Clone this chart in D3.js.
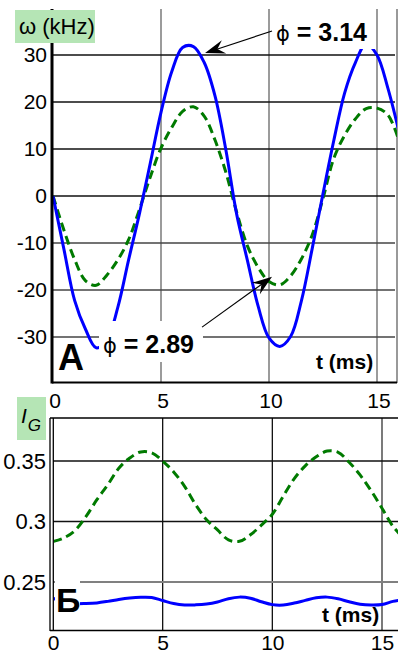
<!DOCTYPE html>
<html><head><meta charset="utf-8">
<script src="https://cdn.jsdelivr.net/npm/d3@7"></script>
<style>html,body{margin:0;padding:0;background:#fff;overflow:hidden}</style>
</head><body><svg id="c" width="398" height="656"></svg>
<script>
// ---------- data ----------
const timeMs = [0,0.5,1,1.5,2,2.5,3,3.5,4,4.5,5,5.5,6,6.5,7,7.5,8,8.5,9,9.5,10,10.5,11,11.5,12,12.5,13,13.5,14,14.5,15,15.5,16];
// panel A: omega (kHz)
const omegaBlue  = [0,-11.2,-22.2,-28.3,-32.3,-30.6,-23.7,-13.6,-3.8,6.9,17.8,26.5,31.6,31.8,28.4,21.3,9.9,-3.8,-13.7,-23.5,-30.2,-32,-29.9,-22.3,-11.2,0.5,11.8,21.9,28.4,32.4,30,23,14];
const omegaGreen = [0,-7.2,-13.5,-18,-19,-16.8,-13.6,-9.3,-2.9,4,10.2,14.6,18,19,17,11.9,5.1,-3.4,-10.6,-15.2,-18.2,-18.9,-17,-13.4,-8.3,-0.5,8,12.9,16.4,18.6,18.7,17.3,12];
// panel Б: I_G
const igGreen = [0.2834,0.2865,0.2925,0.3040,0.3180,0.3305,0.3440,0.3525,0.3575,0.3568,0.3500,0.3410,0.3290,0.3140,0.3015,0.2930,0.2848,0.2836,0.2890,0.2970,0.3060,0.3210,0.3355,0.3460,0.3535,0.3582,0.3572,0.3490,0.3385,0.3255,0.3110,0.2960,0.2860];
const igBlue  = [0.2366,0.2333,0.2321,0.2322,0.2327,0.2340,0.2356,0.2368,0.2374,0.2372,0.2347,0.2322,0.2310,0.2311,0.2318,0.2335,0.2362,0.2375,0.2366,0.2337,0.2313,0.2310,0.2326,0.2348,0.2369,0.2375,0.2361,0.2337,0.2317,0.2310,0.2314,0.2340,0.2355];
// ticks
const xTicks = [0,5,10,15];
const omegaTicks = [30,20,10,0,-10,-20,-30];
const igTicks = [0.35,0.3,0.25];
const igTickLabels = ["0.35","0.3","0.25"];
// annotations (data coordinates)
const phiSymbol = "ϕ";
const phiTopValue = " = 3.14";
const phiBotValue = " = 2.89";
const arrowTop = {from:[10.14,35.1], to:[7.04,30.4]};
const arrowBot = {from:[6.9,-27.9], to:[10.14,-17.2]};

// ---------- drawing ----------
const svg = d3.select("#c");
const FONT = "'Liberation Sans', Arial, Helvetica, sans-serif";
const BLUE = "#0000ff", GREEN = "#007a00", LABELBG = "#b5e5b5";

const xTop = d3.scaleLinear().domain([0,15]).range([53,377]);
const yTop = d3.scaleLinear().domain([-30,30]).range([337,55]);
const xBot = d3.scaleLinear().domain([0,15]).range([53,382]);
const yBot = d3.scaleLinear().domain([0.25,0.35]).range([582,461]);

const topBox = {x0:52, x1:397, y0:9, y1:383};
const botBox = {x0:50, x1:398, y0:418, y1:630};

const defs = svg.append("defs");
defs.append("clipPath").attr("id","clipTop").append("rect")
  .attr("x",53).attr("y",topBox.y0).attr("width",topBox.x1-53).attr("height",topBox.y1-topBox.y0);
defs.append("clipPath").attr("id","clipBot").append("rect")
  .attr("x",54).attr("y",botBox.y0).attr("width",botBox.x1-54).attr("height",botBox.y1-botBox.y0);

// ===== Panel A =====
const gA = svg.append("g");
gA.selectAll(".vg").data(xTicks.filter(d=>d>0)).enter().append("line")
  .attr("x1",d=>xTop(d)).attr("x2",d=>xTop(d)).attr("y1",topBox.y0).attr("y2",topBox.y1)
  .attr("stroke","#7a7a7a").attr("stroke-width",1.5);
gA.selectAll(".hg").data(omegaTicks).enter().append("line")
  .attr("x1",52).attr("x2",395).attr("y1",d=>yTop(d)).attr("y2",d=>yTop(d))
  .attr("stroke",d=>d<0?"#444":"#111").attr("stroke-width",1.4);
gA.append("line").attr("x1",397).attr("x2",397).attr("y1",topBox.y0).attr("y2",topBox.y1)
  .attr("stroke","#555").attr("stroke-width",1.2);
gA.append("line").attr("x1",52).attr("x2",397).attr("y1",382.5).attr("y2",382.5)
  .attr("stroke","#000").attr("stroke-width",2);

const lineTop = d3.line().x((d,i)=>xTop(timeMs[i])).y(d=>yTop(d)).curve(d3.curveCatmullRom.alpha(0.5));
const cA = gA.append("g").attr("clip-path","url(#clipTop)");
cA.append("path").attr("d",lineTop(omegaGreen)).attr("fill","none")
  .attr("stroke",GREEN).attr("stroke-width",3).attr("stroke-dasharray","9,5");
cA.append("path").attr("d",lineTop(omegaBlue)).attr("fill","none")
  .attr("stroke",BLUE).attr("stroke-width",3);

gA.append("line").attr("x1",52).attr("x2",52).attr("y1",topBox.y0).attr("y2",383.5)
  .attr("stroke","#000").attr("stroke-width",3);

const axA = gA.append("g").attr("transform","translate(52,0)")
  .call(d3.axisLeft(yTop).tickValues(omegaTicks).tickSize(0).tickPadding(5).tickFormat(d=>String(d)));
axA.select(".domain").remove();
axA.selectAll("text").attr("font-family",FONT).attr("font-size",21).attr("fill","#000");

// label boxes (white) covering curve
gA.append("rect").attr("x",273).attr("y",9).attr("width",103).attr("height",40).attr("fill","#fff");
gA.append("rect").attr("x",99).attr("y",321).attr("width",104).attr("height",41).attr("fill","#fff");

function phiLabel(g, x, y, value){
  const t = g.append("text").attr("x",x).attr("y",y).attr("font-family",FONT);
  t.append("tspan").attr("font-family","'DejaVu Sans', sans-serif").attr("font-size",21)
    .attr("font-weight","normal").text(phiSymbol);
  t.append("tspan").attr("font-size",25).attr("font-weight","bold").text(value);
}
phiLabel(gA, 276, 41, phiTopValue);
phiLabel(gA, 103, 353, phiBotValue);

function arrow(g, a){
  const x1 = xTop(a.from[0]), y1 = yTop(a.from[1]);
  const x2 = xTop(a.to[0]), y2 = yTop(a.to[1]);
  const dx = x2-x1, dy = y2-y1, len = Math.hypot(dx,dy);
  const ux = dx/len, uy = dy/len, nx = -uy, ny = ux;
  const L = 20, W = 7;
  g.append("line").attr("x1",x1).attr("y1",y1).attr("x2",x2-ux*10).attr("y2",y2-uy*10)
    .attr("stroke","#000").attr("stroke-width",1.2);
  const p = [[x2,y2],[x2-L*ux+W*nx, y2-L*uy+W*ny],[x2-0.65*L*ux, y2-0.65*L*uy],[x2-L*ux-W*nx, y2-L*uy-W*ny]];
  g.append("path").attr("d","M"+p.map(q=>q.join(",")).join("L")+"Z").attr("fill","#000");
}
arrow(gA, arrowTop);
arrow(gA, arrowBot);

gA.append("text").attr("x",58).attr("y",370).attr("font-family",FONT).attr("font-size",36)
  .attr("font-weight","bold").text("A");
gA.append("text").attr("x",316).attr("y",369).attr("font-family",FONT).attr("font-size",21)
  .attr("font-weight","bold").text("t (ms)");
gA.append("rect").attr("x",15).attr("y",10).attr("width",80).attr("height",33).attr("fill",LABELBG);
gA.append("text").attr("x",19).attr("y",34).attr("font-family",FONT).attr("font-size",22).text("ω (kHz)");

const axTopX = svg.append("g").attr("transform","translate(1.5,393)")
  .call(d3.axisBottom(xTop).tickValues(xTicks).tickSize(0).tickPadding(0));
axTopX.select(".domain").remove();
axTopX.selectAll("text").attr("font-family",FONT).attr("font-size",21).attr("fill","#000");

// ===== Panel Б =====
const gB = svg.append("g");
gB.selectAll(".vg").data(xTicks.filter(d=>d>0)).enter().append("line")
  .attr("x1",d=>xBot(d)).attr("x2",d=>xBot(d)).attr("y1",botBox.y0).attr("y2",botBox.y1)
  .attr("stroke",d=>d===15?"#333":"#111").attr("stroke-width",1.3);
gB.selectAll(".hg").data(igTicks).enter().append("line")
  .attr("x1",53).attr("x2",398).attr("y1",d=>yBot(d)).attr("y2",d=>yBot(d))
  .attr("stroke",d=>d===0.25?"#808080":"#111").attr("stroke-width",d=>d===0.25?1.8:1.3);
gB.append("line").attr("x1",50).attr("x2",398).attr("y1",418).attr("y2",418).attr("stroke","#000").attr("stroke-width",1.5);
gB.append("line").attr("x1",50).attr("x2",398).attr("y1",630.5).attr("y2",630.5).attr("stroke","#000").attr("stroke-width",1.5);
gB.append("line").attr("x1",50).attr("x2",50).attr("y1",418).attr("y2",631).attr("stroke","#000").attr("stroke-width",1.3);
gB.append("line").attr("x1",53.3).attr("x2",53.3).attr("y1",418).attr("y2",631).attr("stroke","#000").attr("stroke-width",1.3);

const lineBot = d3.line().x((d,i)=>xBot(timeMs[i])).y(d=>yBot(d)).curve(d3.curveCatmullRom.alpha(0.5));
const cB = gB.append("g").attr("clip-path","url(#clipBot)");
cB.append("path").attr("d",lineBot(igGreen)).attr("fill","none")
  .attr("stroke",GREEN).attr("stroke-width",3).attr("stroke-dasharray","9,5");
cB.append("path").attr("d",lineBot(igBlue)).attr("fill","none")
  .attr("stroke",BLUE).attr("stroke-width",3);

const axB = gB.append("g").attr("transform","translate(50,0)")
  .call(d3.axisLeft(yBot).tickValues(igTicks).tickSize(0).tickPadding(4).tickFormat((d,i)=>igTickLabels[i]));
axB.select(".domain").remove();
axB.selectAll("text").attr("font-family",FONT).attr("font-size",22).attr("fill","#000");

gB.append("rect").attr("x",55).attr("y",574).attr("width",25).attr("height",42).attr("fill","#fff");
gB.append("text").attr("x",56).attr("y",612).attr("font-family",FONT).attr("font-size",34)
  .attr("font-weight","bold").text("Б");
gB.append("text").attr("x",322).attr("y",622).attr("font-family",FONT).attr("font-size",21)
  .attr("font-weight","bold").text("t (ms)");

gB.append("rect").attr("x",17).attr("y",397).attr("width",29).attr("height",43).attr("fill",LABELBG);
const ig = gB.append("text").attr("x",21).attr("y",423).attr("font-family",FONT).attr("font-style","italic");
ig.append("tspan").attr("font-size",21).text("I");
ig.append("tspan").attr("font-size",17).attr("dy",8).attr("dx",1).text("G");

const axBotX = svg.append("g").attr("transform","translate(0,635)")
  .call(d3.axisBottom(xBot).tickValues(xTicks).tickSize(0).tickPadding(0));
axBotX.select(".domain").remove();
axBotX.selectAll("text").attr("font-family",FONT).attr("font-size",21).attr("fill","#000");
</script>
</body></html>
